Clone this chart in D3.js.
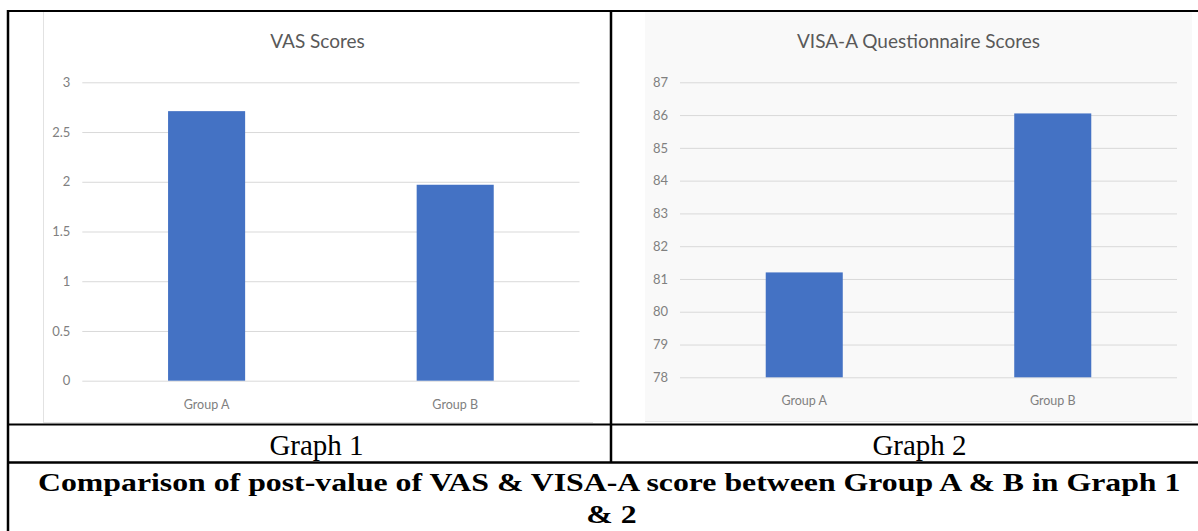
<!DOCTYPE html>
<html>
<head>
<meta charset="utf-8">
<script src="https://cdn.jsdelivr.net/npm/d3@7"></script>
<style>
  html, body { margin: 0; padding: 0; background: #ffffff; }
  svg { display: block; }
</style>
</head>
<body>
<svg id="chart" width="1198" height="531"></svg>
<script>
// ---- data ----
const categories = ["Group A", "Group B"];
const vasValues = [2.71, 1.97];
const visaValues = [81.2, 86.05];
const vasTicks = [0, 0.5, 1, 1.5, 2, 2.5, 3];
const visaTicks = [78, 79, 80, 81, 82, 83, 84, 85, 86, 87];
const vasTitle = "VAS Scores";
const visaTitle = "VISA-A Questionnaire Scores";
const graphLabels = ["Graph 1", "Graph 2"];
const captionLine1 = "Comparison of post-value of VAS & VISA-A score between Group A & B in Graph 1";
const captionLine2 = "& 2";

const svg = d3.select("#chart");
const BAR = "#4472c4";
const GRID = "#d9d9d9";
const TICK = "#808080";
const chartFont = "Lato, 'Open Sans', sans-serif";
const serif = "'Liberation Serif', 'Times New Roman', serif";

// ---- chart image backgrounds ----
svg.append("rect").attr("x", 43).attr("y", 11).attr("width", 550).attr("height", 412)
  .attr("fill", "#ffffff");
svg.append("line").attr("x1", 43.5).attr("x2", 43.5).attr("y1", 11).attr("y2", 423)
  .attr("stroke", "#e2e2e2").attr("stroke-width", 1);
svg.append("line").attr("x1", 43).attr("x2", 593).attr("y1", 422.5).attr("y2", 422.5)
  .attr("stroke", "#e2e2e2").attr("stroke-width", 1);

svg.append("rect").attr("x", 645).attr("y", 11).attr("width", 547).attr("height", 411)
  .attr("fill", "#f9f9f9");
svg.append("line").attr("x1", 645).attr("x2", 1192).attr("y1", 421.5).attr("y2", 421.5)
  .attr("stroke", "#e4e4e4").attr("stroke-width", 1);

function drawChart(opts) {
  const g = svg.append("g");
  const y = d3.scaleLinear().domain(opts.domain).range([opts.yBottom, opts.yTop]);
  const x = d3.scaleBand().domain(categories).range([opts.xLeft, opts.xRight])
    .paddingInner(0.69).paddingOuter(0.345);

  const yAxis = d3.axisLeft(y).tickValues(opts.ticks)
    .tickSize(-(opts.xRight - opts.xLeft)).tickPadding(12)
    .tickFormat(d3.format(""));
  const ya = g.append("g").attr("transform", `translate(${opts.xLeft},0)`).call(yAxis);
  ya.select(".domain").remove();
  ya.selectAll(".tick line").attr("stroke", GRID).attr("stroke-width", 1);
  ya.selectAll(".tick text").attr("fill", TICK)
    .style("font-family", chartFont).style("font-size", "13px");

  g.selectAll("rect.bar").data(opts.values).enter().append("rect")
    .attr("class", "bar")
    .attr("x", (d, i) => x(categories[i]))
    .attr("width", x.bandwidth())
    .attr("y", d => y(d))
    .attr("height", d => y(opts.domain[0]) - y(d))
    .attr("fill", BAR);

  const xAxis = d3.axisBottom(x).tickSize(0).tickPadding(opts.xPad);
  const xa = g.append("g").attr("transform", `translate(0,${opts.yBottom})`).call(xAxis);
  xa.select(".domain").remove();
  xa.selectAll(".tick text").attr("fill", TICK)
    .style("font-family", chartFont).style("font-size", "12.5px");

  g.append("text").attr("x", opts.titleX).attr("y", 48)
    .attr("text-anchor", "middle").attr("fill", "#595959")
    .style("font-family", chartFont).style("font-size", "19px")
    .text(opts.title);
}

drawChart({
  values: vasValues, ticks: vasTicks, domain: [0, 3],
  yBottom: 380.7, yTop: 82.3, xLeft: 82.3, xRight: 579.5, xPad: 19,
  title: vasTitle, titleX: 317.5
});
drawChart({
  values: visaValues, ticks: visaTicks, domain: [78, 87],
  yBottom: 377.3, yTop: 82.3, xLeft: 680, xRight: 1177, xPad: 19,
  title: visaTitle, titleX: 918.5
});

// ---- table borders ----
const bl = svg.append("g").attr("stroke", "#000");
bl.append("line").attr("x1", 7).attr("x2", 1198).attr("y1", 11).attr("y2", 11).attr("stroke-width", 2);
bl.append("line").attr("x1", 8).attr("x2", 8).attr("y1", 10).attr("y2", 531).attr("stroke-width", 2.5);
bl.append("line").attr("x1", 611).attr("x2", 611).attr("y1", 10).attr("y2", 463).attr("stroke-width", 2.5);
bl.append("line").attr("x1", 7).attr("x2", 1198).attr("y1", 424.5).attr("y2", 424.5).attr("stroke-width", 2);
bl.append("line").attr("x1", 7).attr("x2", 1198).attr("y1", 462.5).attr("y2", 462.5).attr("stroke-width", 2.5);

// ---- graph labels ----
const glX = [316.5, 919.5];
svg.selectAll("text.glabel").data(graphLabels).enter().append("text")
  .attr("class", "glabel")
  .attr("x", (d, i) => glX[i]).attr("y", 455)
  .attr("text-anchor", "middle").attr("fill", "#000")
  .style("font-family", serif).style("font-size", "29px")
  .text(d => d);

// ---- caption (horizontally stretched to the reference width) ----
const capFs = 26;
const g1 = svg.append("g").attr("transform", "translate(38,491)");
const cap1 = g1.append("text").attr("x", 0).attr("y", 0)
  .attr("fill", "#000").style("font-family", serif).style("font-weight", "bold")
  .style("font-size", capFs + "px").text(captionLine1);
const len = cap1.node().getComputedTextLength();
const sx = 1143 / len;
g1.attr("transform", `translate(38,491) scale(${sx},1)`);
svg.append("g").attr("transform", `translate(611.5,523) scale(${sx},1)`)
  .append("text").attr("text-anchor", "middle")
  .attr("fill", "#000").style("font-family", serif).style("font-weight", "bold")
  .style("font-size", capFs + "px").text(captionLine2);
</script>
</body>
</html>
